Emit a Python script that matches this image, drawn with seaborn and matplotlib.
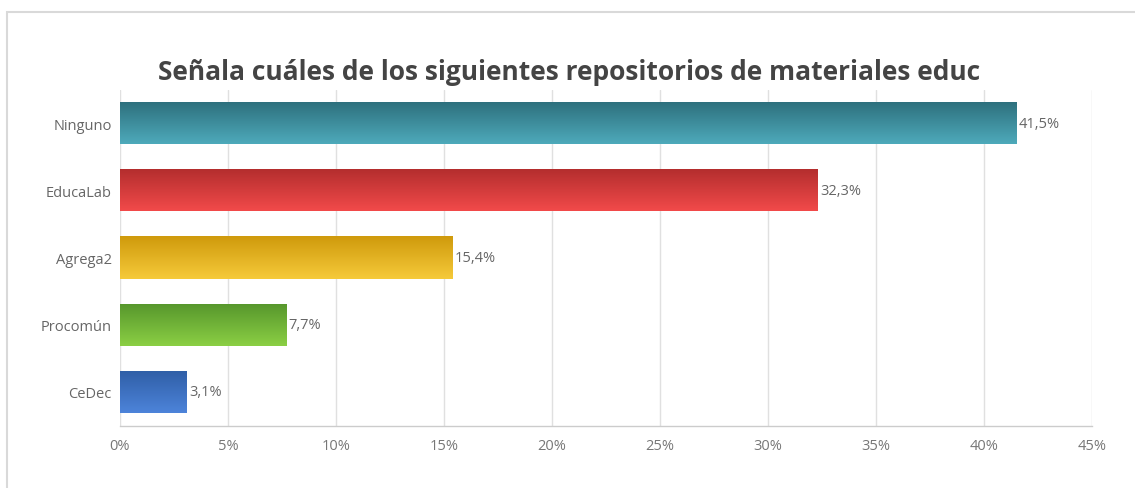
import numpy as np
import pandas as pd
import matplotlib
matplotlib.use("Agg")
import matplotlib.pyplot as plt
import seaborn as sns
from matplotlib.colors import LinearSegmentedColormap
from matplotlib.patches import Rectangle

categories = ["Ninguno", "EducaLab", "Agrega2", "Procomún", "CeDec"]
values = [41.5, 32.3, 15.4, 7.7, 3.1]
value_labels = ["41,5%", "32,3%", "15,4%", "7,7%", "3,1%"]
top_colors = ["#2d6f7c", "#b22d2d", "#cf9a0c", "#56962c", "#2f5ea6"]
bottom_colors = ["#4eaabb", "#f24a4a", "#f6ca3a", "#8bcf44", "#4d84da"]
xticks = [0, 5, 10, 15, 20, 25, 30, 35, 40, 45]
xtick_labels = ["0%", "5%", "10%", "15%", "20%", "25%", "30%", "35%", "40%", "45%"]
title = "Señala cuáles de los siguientes repositorios de materiales educ"

sns.set_theme(style="white")
plt.rcParams['font.family'] = ['Open Sans', 'DejaVu Sans']

df = pd.DataFrame({"cat": categories, "val": values})

fig = plt.figure(figsize=(11.35, 4.89), dpi=100)
ax = fig.add_axes([120/1135, 1 - 426.5/489, (1092-120)/1135, (426.5-90.5)/489])

sns.barplot(data=df, y="cat", x="val", hue="cat", palette=bottom_colors,
            legend=False, width=0.63, ax=ax, saturation=1)

ax.set_xlim(0, 45)
ax.set_ylim(4.5, -0.5)
ax.set_xticks(xticks)
ax.set_xticklabels(xtick_labels, color="#777777", fontsize=10.5)
ax.set_xlabel("")
ax.set_ylabel("")
ax.tick_params(axis="y", labelsize=10.5, colors="#666666", length=0, pad=6)
ax.tick_params(axis="x", length=0, pad=9)
for lab in ax.get_yticklabels():
    lab.set_color("#666666")

ax.grid(axis="x", color="#e0e0e0", linewidth=1)
ax.set_axisbelow(True)
for s in ["top", "right", "left"]:
    ax.spines[s].set_visible(False)
ax.spines["bottom"].set_color("#cccccc")
ax.spines["bottom"].set_linewidth(1)

# gradient fill for bars
for i, patch in enumerate(ax.patches):
    x0, y0 = patch.get_x(), patch.get_y()
    w, h = patch.get_width(), patch.get_height()
    cmap = LinearSegmentedColormap.from_list("g", [top_colors[i], bottom_colors[i]])
    grad = np.linspace(0, 1, 256).reshape(-1, 1)
    im = ax.imshow(grad, cmap=cmap, aspect="auto",
                   extent=[x0, x0 + w, y0 + h, y0], zorder=3, interpolation="bicubic")
    im.set_clip_path(patch)
    patch.set_edgecolor("none")
    ax.text(x0 + w + 0.1, y0 + h / 2, value_labels[i], va="center", ha="left",
            fontsize=10.5, color="#666666", zorder=4)

ax.set_xlim(0, 45)
ax.set_ylim(4.5, -0.5)

fig.text(569/1135, 1 - 72/489, title, ha="center", va="center",
         fontsize=19, fontweight="bold", color="#444444")

# outer border
fig.patches.append(Rectangle((7/1135, -0.1), 1.2, 1 - 13/489 + 0.1,
                             transform=fig.transFigure, fill=False,
                             edgecolor="#d9d9d9", linewidth=1.5))

fig.savefig("out.png", dpi=100)
